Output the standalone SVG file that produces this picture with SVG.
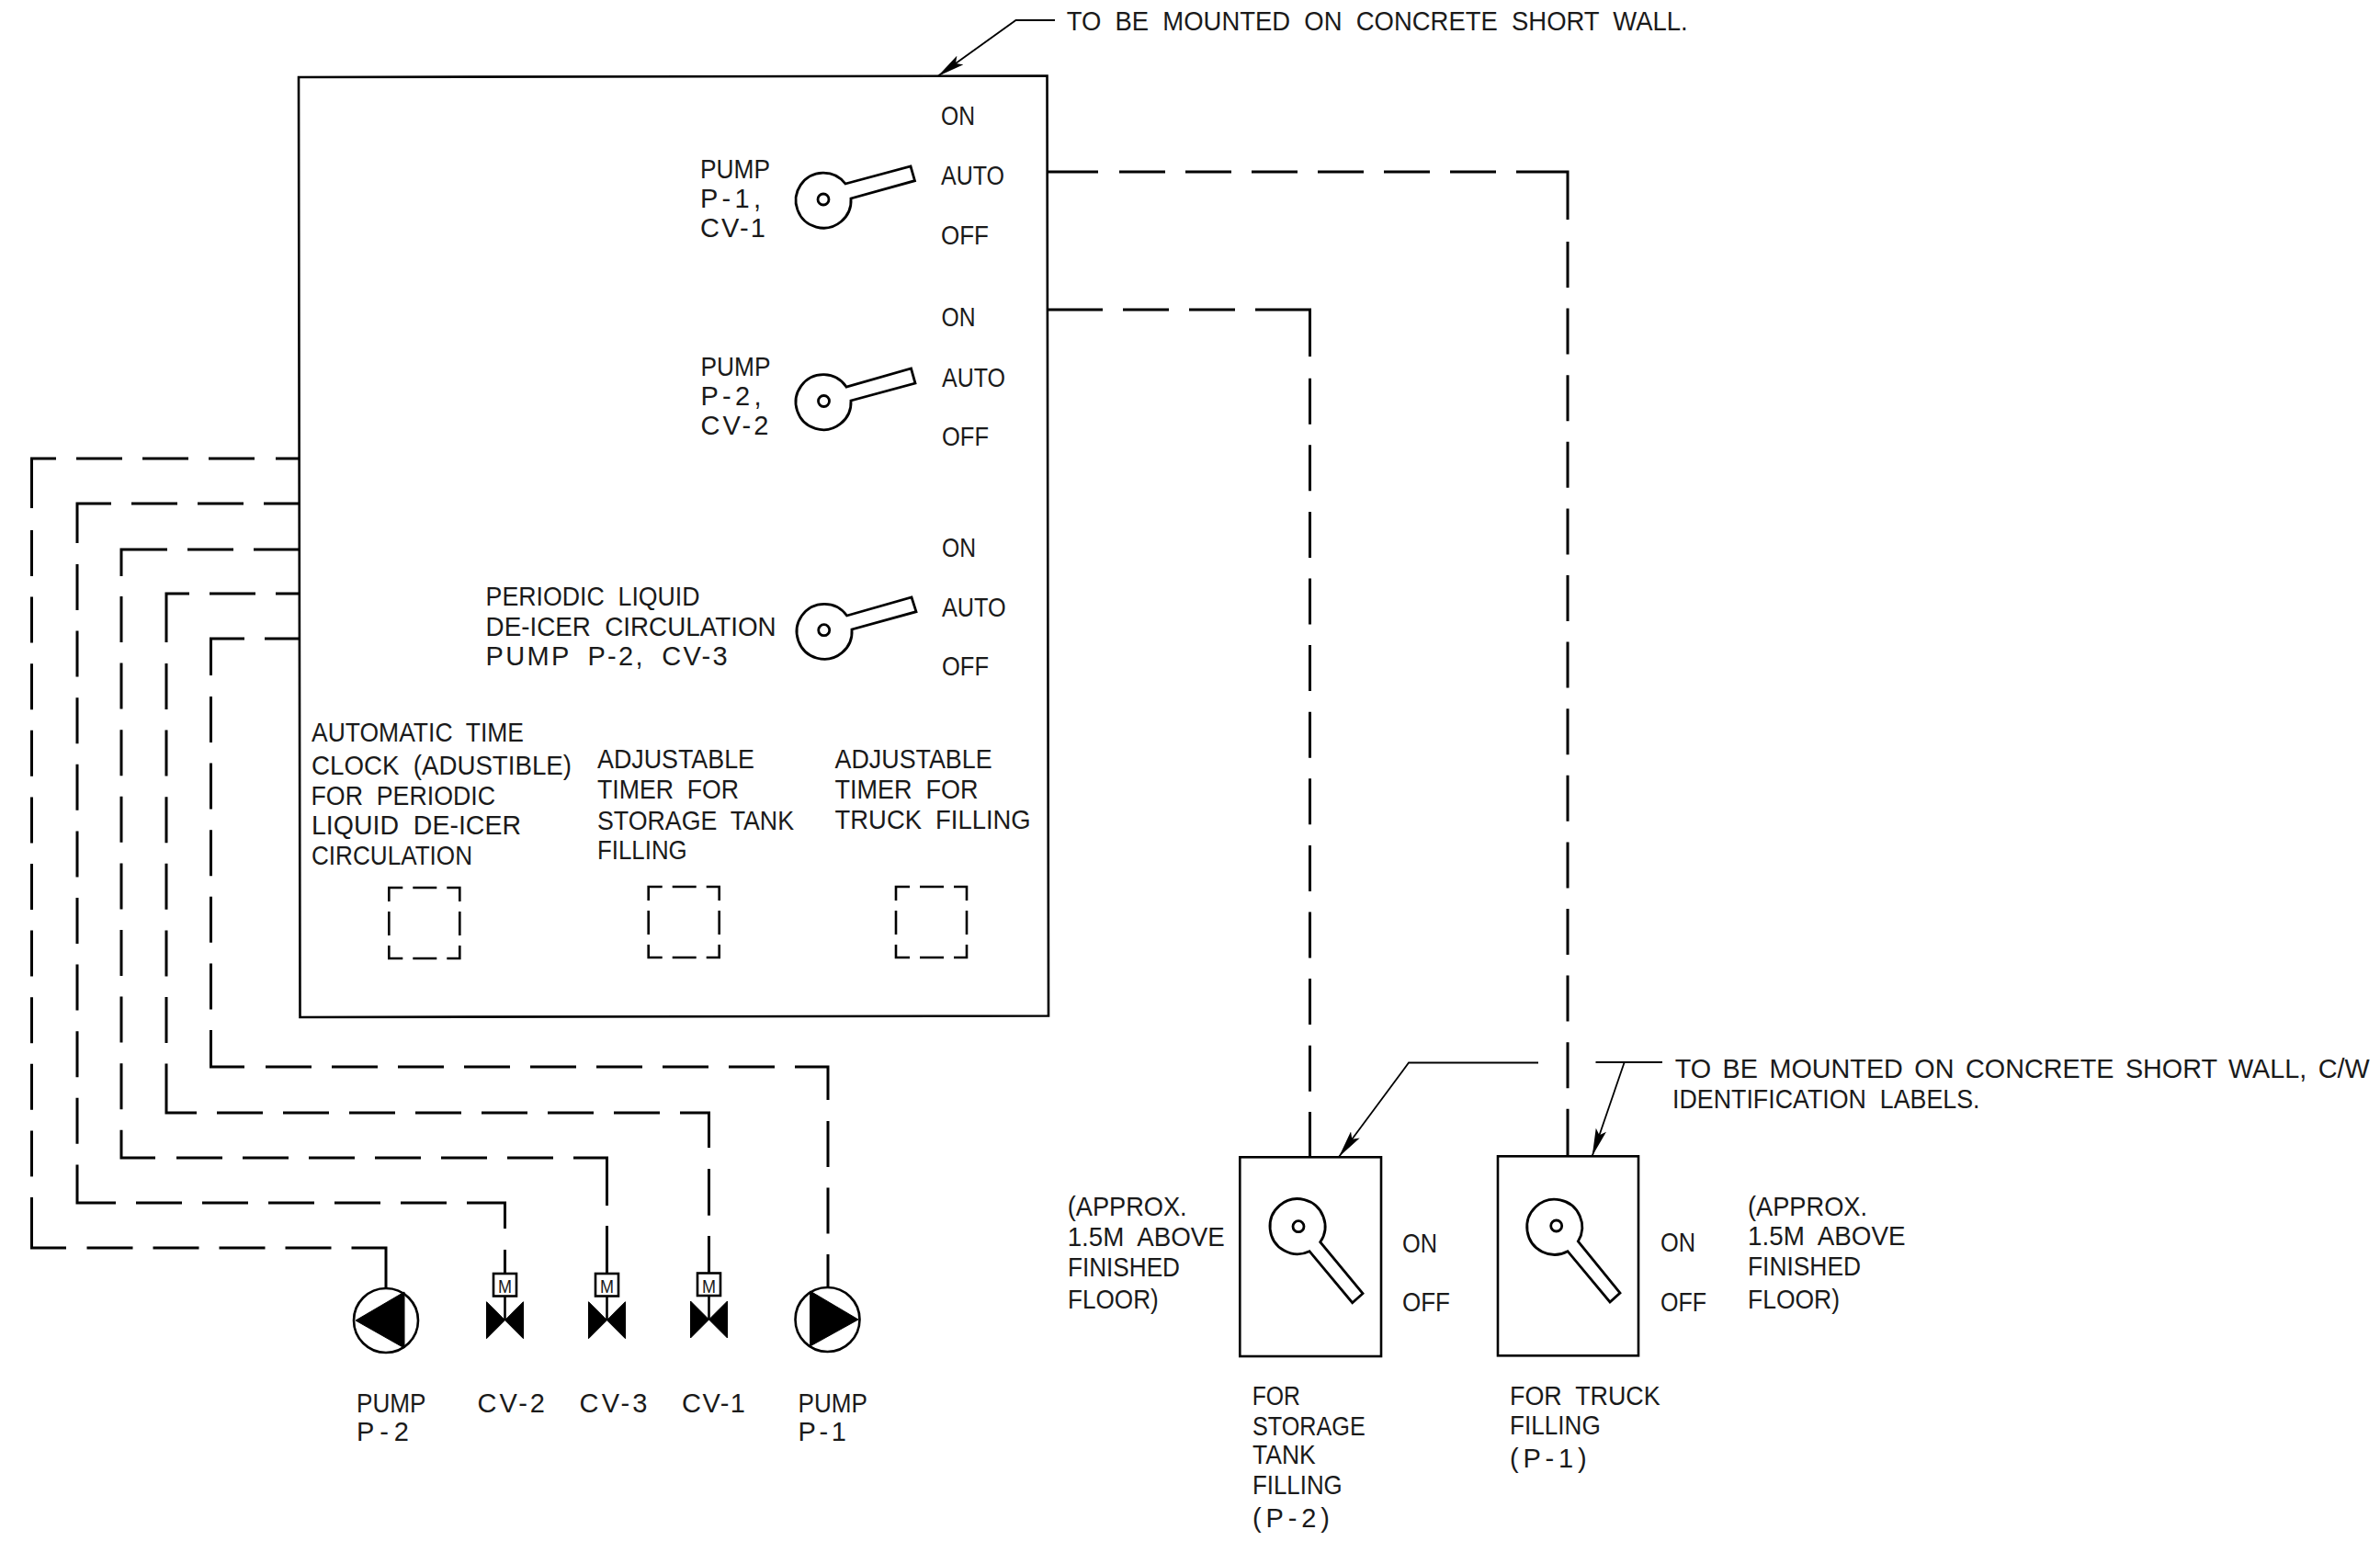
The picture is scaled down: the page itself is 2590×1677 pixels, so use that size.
<svg xmlns="http://www.w3.org/2000/svg" width="2590" height="1677" viewBox="0 0 2590 1677">
<style>
text{font-family:"Liberation Sans",Arial,sans-serif;font-size:29px;fill:#1a1a1a;word-spacing:8px}
.m{font-size:21px;text-anchor:middle;word-spacing:0}
.long{word-spacing:4.5px}
.ln{fill:none;stroke:#000;stroke-width:2.6}
.sw{fill:#fff;stroke:#000;stroke-width:2.8}
.wire path{fill:none;stroke:#000;stroke-width:3}
.wire .h{stroke-dasharray:50 22}
.wire .v{stroke-dasharray:50 22.6}
.lead{fill:none;stroke:#000;stroke-width:1.8}
.fill{fill:#000;stroke:#000;stroke-width:1}
</style>
<defs>
<marker id="arrow" markerUnits="userSpaceOnUse" viewBox="0 0 30 12" refX="30" refY="6" markerWidth="30" markerHeight="12" orient="auto"><path d="M0 0L30 6L0 12L6 6Z" fill="#000"/></marker>
<path id="bowtie" d="M-20 -20L0 0L20 -20V20L0 0L-20 20Z"/>
<path id="timer" d="M0 15V0H15M26 0H52M63 0H77V15M77 26V52M77 63V77H63M52 77H26M15 77H0V63M0 52V26"/>
</defs>
<rect width="2590" height="1677" fill="#fff"/>

<g id="connectors">
<g class="wire" id="wire-auto-truck"><path d="M1140 187H1195M1650 187H1706V239M1706 1207V1258"/><path class="h" d="M1218 187H1650"/><path class="v" d="M1706 263V1207"/></g>
<g class="wire" id="wire-auto-storage"><path d="M1140 337H1200M1366 337H1425.5V388M1425.5 1210V1259"/><path class="h" d="M1222 337H1366"/><path class="v" d="M1425.5 411.7V1210"/></g>
<g class="wire" id="wire-p2"><path d="M326 499H300M61 499H34.5V553M34.5 1303V1358H72M382.5 1358H420V1402"/><path class="h" d="M277 499H83M94.5 1358H382.5"/><path class="v" d="M34.5 577V1303"/></g>
<g class="wire" id="wire-cv2"><path d="M326 548H287M121 548H84V591M84 1267.4V1309H126M508 1309H549.5V1337M549.5 1360V1386"/><path class="h" d="M265 548H143M148 1309H508"/><path class="v" d="M84 614V1267.4"/></g>
<g class="wire" id="wire-cv3"><path d="M326 598H276M254 598H204M182 598H132V627M132 1231V1260H169M624 1260H660.5V1312M660.5 1334V1386"/><path class="h" d="M192 1260H624"/><path class="v" d="M132 649V1231"/></g>
<g class="wire" id="wire-cv1"><path d="M326 646H300M278 646H228M206 646H181V699M181 1158V1211H214M740 1211H771.5V1249M771.5 1272V1322.7M771.5 1345V1386"/><path class="h" d="M236 1211H740"/><path class="v" d="M181 722V1158"/></g>
<g class="wire" id="wire-p1"><path d="M326 695H288M266 695H229.5V735M229.5 1121V1161H266M865 1161H901V1197M901 1365V1401"/><path class="h" d="M289 1161H865"/><path class="v" d="M229.5 758V1121M901 1220V1365"/></g>
<path class="lead" id="leader-panel" d="M1148 22H1105.5L1020.5 83" marker-end="url(#arrow)"/>
<path class="lead" id="leader-storage" d="M1674 1156.5H1533L1457 1259" marker-end="url(#arrow)"/>
<path class="lead" d="M1736.5 1156H1809" id="leader-top"/>
<path class="lead" id="leader-truck" d="M1767.7 1156L1732.7 1258" marker-end="url(#arrow)"/>
</g>

<g id="panel">
<path class="ln" d="M325 84L1139.5 82.5L1141 1105.5L326.5 1107Z"/>
</g>

<g id="note-panel"><text x="1160.7" y="33" textLength="676" lengthAdjust="spacingAndGlyphs">TO BE MOUNTED ON CONCRETE SHORT WALL.</text></g>

<g id="switch-1">
<path class="sw" d="M926 216A30 30 0 1 1 920 200L991 181L995.5 196.7Z"/><circle class="sw" cx="896" cy="217" r="6"/>
<text x="762" y="194" textLength="76" lengthAdjust="spacingAndGlyphs">PUMP</text>
<text x="762" y="226" textLength="66" lengthAdjust="spacing">P-1,</text>
<text x="762" y="258" textLength="71" lengthAdjust="spacing">CV-1</text>
<text x="1024" y="136" textLength="37" lengthAdjust="spacingAndGlyphs">ON</text>
<text x="1024" y="201" textLength="69" lengthAdjust="spacingAndGlyphs">AUTO</text>
<text x="1024" y="265.7" textLength="52" lengthAdjust="spacingAndGlyphs">OFF</text>
</g>
<g id="switch-2">
<path class="sw" d="M926 436A30 30 0 1 1 921 421L991.5 401L996 417Z"/><circle class="sw" cx="896.5" cy="436.5" r="6"/>
<text x="762.5" y="409" textLength="76" lengthAdjust="spacingAndGlyphs">PUMP</text>
<text x="762.5" y="440.7" textLength="66" lengthAdjust="spacing">P-2,</text>
<text x="762.5" y="473" textLength="74" lengthAdjust="spacing">CV-2</text>
<text x="1024.5" y="355" textLength="37" lengthAdjust="spacingAndGlyphs">ON</text>
<text x="1025" y="421" textLength="69" lengthAdjust="spacingAndGlyphs">AUTO</text>
<text x="1025" y="485" textLength="51" lengthAdjust="spacingAndGlyphs">OFF</text>
</g>
<g id="switch-3">
<path class="sw" d="M927 685A30 30 0 1 1 921.6 670L992 650L997 665.7Z"/><circle class="sw" cx="896.7" cy="685.7" r="6"/>
<text x="528.6" y="659" textLength="233" lengthAdjust="spacingAndGlyphs">PERIODIC LIQUID</text>
<text x="528.6" y="692" textLength="316" lengthAdjust="spacingAndGlyphs">DE-ICER CIRCULATION</text>
<text x="528.6" y="724" textLength="263" lengthAdjust="spacing">PUMP P-2, CV-3</text>
<text x="1025" y="606" textLength="37" lengthAdjust="spacingAndGlyphs">ON</text>
<text x="1025" y="670.7" textLength="69.7" lengthAdjust="spacingAndGlyphs">AUTO</text>
<text x="1025" y="735" textLength="51" lengthAdjust="spacingAndGlyphs">OFF</text>
</g>

<g id="timer-clock">
<text x="339" y="806.7" textLength="231" lengthAdjust="spacingAndGlyphs">AUTOMATIC TIME</text>
<text x="339" y="842.7" textLength="283" lengthAdjust="spacingAndGlyphs">CLOCK (ADUSTIBLE)</text>
<text x="338.5" y="875.7" textLength="200.5" lengthAdjust="spacingAndGlyphs">FOR PERIODIC</text>
<text x="339" y="908" textLength="228" lengthAdjust="spacingAndGlyphs">LIQUID DE-ICER</text>
<text x="339" y="940.7" textLength="175" lengthAdjust="spacingAndGlyphs">CIRCULATION</text>
<use href="#timer" x="423.3" y="966" class="ln"/>
</g>
<g id="timer-storage">
<text x="650" y="835.7" textLength="171" lengthAdjust="spacingAndGlyphs">ADJUSTABLE</text>
<text x="650" y="869.3" textLength="154" lengthAdjust="spacingAndGlyphs">TIMER FOR</text>
<text x="650" y="902.7" textLength="214" lengthAdjust="spacingAndGlyphs">STORAGE TANK</text>
<text x="650" y="935" textLength="97.7" lengthAdjust="spacingAndGlyphs">FILLING</text>
<use href="#timer" x="705.7" y="965" class="ln"/>
</g>
<g id="timer-truck">
<text x="908.6" y="836" textLength="171" lengthAdjust="spacingAndGlyphs">ADJUSTABLE</text>
<text x="908.6" y="869" textLength="156" lengthAdjust="spacingAndGlyphs">TIMER FOR</text>
<text x="908.6" y="902" textLength="213" lengthAdjust="spacingAndGlyphs">TRUCK FILLING</text>
<use href="#timer" x="975" y="965" class="ln"/>
</g>

<g id="pump-p2">
<circle class="ln" cx="420" cy="1437" r="35"/><path class="fill" d="M387 1437L440 1406V1467Z"/>
<text x="388" y="1537" textLength="75.5" lengthAdjust="spacingAndGlyphs">PUMP</text>
<text x="388" y="1568" textLength="57" lengthAdjust="spacing">P-2</text>
</g>
<g id="valve-cv2">
<rect class="ln" x="537" y="1386" width="25" height="24.5"/><path class="ln" d="M549.5 1410.5V1436"/><use href="#bowtie" x="549.5" y="1436.7" class="fill"/>
<text class="m" x="549.5" y="1407" textLength="15" lengthAdjust="spacingAndGlyphs">M</text>
<text x="519.6" y="1537" textLength="73.4" lengthAdjust="spacing">CV-2</text>
</g>
<g id="valve-cv3">
<rect class="ln" x="648" y="1386" width="25" height="24.5"/><path class="ln" d="M660.5 1410.5V1436"/><use href="#bowtie" x="660.5" y="1436.7" class="fill"/>
<text class="m" x="660.5" y="1407" textLength="15" lengthAdjust="spacingAndGlyphs">M</text>
<text x="630.6" y="1537" textLength="73.9" lengthAdjust="spacing">CV-3</text>
</g>
<g id="valve-cv1">
<rect class="ln" x="759" y="1385.5" width="25" height="24.5"/><path class="ln" d="M771.5 1410V1436"/><use href="#bowtie" x="771.5" y="1436" class="fill"/>
<text class="m" x="771.5" y="1406.5" textLength="15" lengthAdjust="spacingAndGlyphs">M</text>
<text x="742" y="1537" textLength="69" lengthAdjust="spacing">CV-1</text>
</g>
<g id="pump-p1">
<circle class="ln" cx="900.5" cy="1436" r="35"/><path class="fill" d="M881.6 1405L934 1436L881.6 1465Z"/>
<text x="868.6" y="1537" textLength="75.4" lengthAdjust="spacingAndGlyphs">PUMP</text>
<text x="868.6" y="1568" textLength="52.4" lengthAdjust="spacing">P-1</text>
</g>

<g id="station-storage">
<rect class="ln" x="1349.3" y="1259.3" width="153.7" height="216.7"/>
<path class="sw" d="M1425 1361.7A30 30 0 1 1 1436.7 1351.7L1483 1407.7L1471.7 1417.7Z"/><circle class="sw" cx="1413" cy="1334.7" r="6"/>
<text x="1161.7" y="1323" textLength="130" lengthAdjust="spacingAndGlyphs">(APPROX.</text>
<text x="1161.7" y="1356" textLength="171" lengthAdjust="spacingAndGlyphs">1.5M ABOVE</text>
<text x="1162" y="1389" textLength="122" lengthAdjust="spacingAndGlyphs">FINISHED</text>
<text x="1162" y="1424" textLength="98.7" lengthAdjust="spacingAndGlyphs">FLOOR)</text>
<text x="1526" y="1362.7" textLength="38" lengthAdjust="spacingAndGlyphs">ON</text>
<text x="1526" y="1426.7" textLength="52" lengthAdjust="spacingAndGlyphs">OFF</text>
<text x="1362.7" y="1529" textLength="52.3" lengthAdjust="spacingAndGlyphs">FOR</text>
<text x="1363" y="1561.7" textLength="122.7" lengthAdjust="spacingAndGlyphs">STORAGE</text>
<text x="1363" y="1593" textLength="68.7" lengthAdjust="spacingAndGlyphs">TANK</text>
<text x="1363" y="1625.7" textLength="97.7" lengthAdjust="spacingAndGlyphs">FILLING</text>
<text x="1363" y="1661.7" textLength="84" lengthAdjust="spacing">(P-2)</text>
</g>
<g id="station-truck">
<rect class="ln" x="1630" y="1258.3" width="153" height="217"/>
<path class="sw" d="M1706 1361.7A30 30 0 1 1 1717.3 1351L1763 1407L1752 1417Z"/><circle class="sw" cx="1693.7" cy="1334" r="6"/>
<text x="1807" y="1362" textLength="38" lengthAdjust="spacingAndGlyphs">ON</text>
<text x="1807" y="1426.7" textLength="50" lengthAdjust="spacingAndGlyphs">OFF</text>
<text x="1902" y="1322.7" textLength="130" lengthAdjust="spacingAndGlyphs">(APPROX.</text>
<text x="1902" y="1355" textLength="171.5" lengthAdjust="spacingAndGlyphs">1.5M ABOVE</text>
<text x="1902" y="1388" textLength="123" lengthAdjust="spacingAndGlyphs">FINISHED</text>
<text x="1902" y="1424" textLength="100" lengthAdjust="spacingAndGlyphs">FLOOR)</text>
<text x="1643" y="1529" textLength="163.7" lengthAdjust="spacingAndGlyphs">FOR TRUCK</text>
<text x="1643" y="1561" textLength="98.7" lengthAdjust="spacingAndGlyphs">FILLING</text>
<text x="1643" y="1596.7" textLength="83.7" lengthAdjust="spacing">(P-1)</text>
</g>
<g id="note-stations">
<text class="long" x="1822.7" y="1172.7" textLength="756" lengthAdjust="spacingAndGlyphs">TO BE MOUNTED ON CONCRETE SHORT WALL, C/W</text>
<text x="1820" y="1205.7" textLength="334.5" lengthAdjust="spacingAndGlyphs">IDENTIFICATION LABELS.</text>
</g>
</svg>
